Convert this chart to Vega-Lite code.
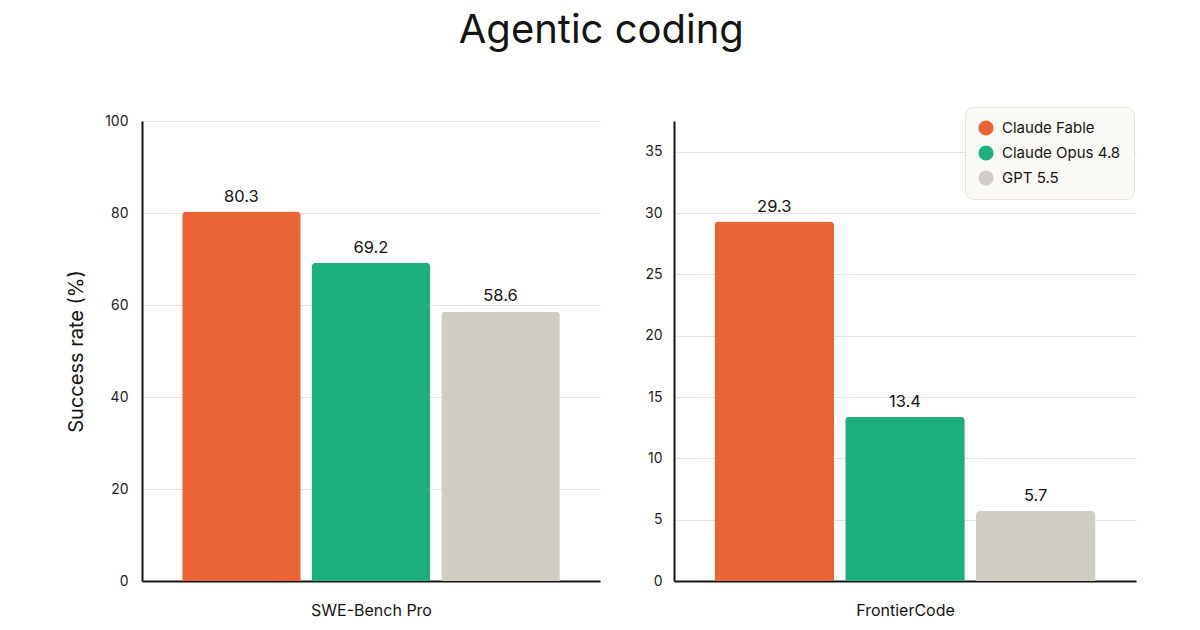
{
  "$schema": "https://vega.github.io/schema/vega-lite/v6.json",
  "background": "white",
  "padding": {"left": 66, "top": 10, "right": 54, "bottom": 3},
  "title": {"text": "Agentic coding", "fontSize": 40, "font": "Inter", "fontWeight": 400, "color": "#141413", "anchor": "middle", "offset": 56},
  "config": {
    "font": "Inter",
    "view": {"stroke": null},
    "axis": {"labelFont": "Inter", "titleFont": "Inter", "labelColor": "#222", "titleColor": "#141413"},
    "concat": {"spacing": 44}
  },
  "data": {"values": [
    {"benchmark": "SWE-Bench Pro", "model": "Claude Fable", "value": 80.3},
    {"benchmark": "SWE-Bench Pro", "model": "Claude Opus 4.8", "value": 69.2},
    {"benchmark": "SWE-Bench Pro", "model": "GPT 5.5", "value": 58.6},
    {"benchmark": "FrontierCode", "model": "Claude Fable", "value": 29.3},
    {"benchmark": "FrontierCode", "model": "Claude Opus 4.8", "value": 13.4},
    {"benchmark": "FrontierCode", "model": "GPT 5.5", "value": 5.7}
  ]},
  "resolve": {"scale": {"y": "independent"}, "legend": {"color": "independent"}},
  "hconcat": [
    {
      "width": 458, "height": 460,
      "transform": [{"filter": "datum.benchmark === 'SWE-Bench Pro'"}],
      "encoding": {
        "x": {"field": "model", "type": "nominal", "sort": ["Claude Fable", "Claude Opus 4.8", "GPT 5.5"],
              "scale": {"paddingInner": 0.085, "paddingOuter": 0.31},
              "axis": {"title": "SWE-Bench Pro", "labels": false, "ticks": false, "domainColor": "#141413", "domainWidth": 2, "titleFontSize": 16, "titleFontWeight": "normal", "titlePadding": 21}},
        "y": {"field": "value", "type": "quantitative", "scale": {"domain": [0, 100]},
              "axis": {"title": "Success rate (%)", "values": [0, 20, 40, 60, 80, 100], "ticks": false, "domainColor": "#141413", "domainWidth": 2, "gridColor": "#e3e3e3", "labelFontSize": 14, "labelPadding": 14, "titleFontSize": 20, "titleFontWeight": "normal", "titlePadding": 18}}
      },
      "layer": [
        {"mark": {"type": "bar", "cornerRadiusTopLeft": 4, "cornerRadiusTopRight": 4},
         "encoding": {"color": {"field": "model", "type": "nominal", "scale": {"domain": ["Claude Fable", "Claude Opus 4.8", "GPT 5.5"], "range": ["#EA6535", "#1DB07E", "#D0CEC4"]}, "legend": null}}},
        {"mark": {"type": "text", "dy": -15, "fontSize": 16.5, "color": "#141413"},
         "encoding": {"text": {"field": "value", "type": "quantitative", "format": ".1f"}}}
      ]
    },
    {
      "width": 462, "height": 460,
      "transform": [{"filter": "datum.benchmark === 'FrontierCode'"}],
      "encoding": {
        "x": {"field": "model", "type": "nominal", "sort": ["Claude Fable", "Claude Opus 4.8", "GPT 5.5"],
              "scale": {"paddingInner": 0.085, "paddingOuter": 0.31},
              "axis": {"title": "FrontierCode", "labels": false, "ticks": false, "domainColor": "#141413", "domainWidth": 2, "titleFontSize": 16, "titleFontWeight": "normal", "titlePadding": 21}},
        "y": {"field": "value", "type": "quantitative", "scale": {"domain": [0, 37.5], "nice": false},
              "axis": {"title": null, "values": [0, 5, 10, 15, 20, 25, 30, 35], "ticks": false, "domainColor": "#141413", "domainWidth": 2, "gridColor": "#e3e3e3", "labelFontSize": 14, "labelPadding": 12}}
      },
      "layer": [
        {"mark": {"type": "bar", "cornerRadiusTopLeft": 4, "cornerRadiusTopRight": 4},
         "encoding": {"color": {"field": "model", "type": "nominal", "scale": {"domain": ["Claude Fable", "Claude Opus 4.8", "GPT 5.5"], "range": ["#EA6535", "#1DB07E", "#D0CEC4"]},
           "legend": {"title": null, "orient": "none", "legendX": 291, "legendY": -14, "symbolType": "circle", "symbolSize": 230, "symbolStrokeWidth": 0, "labelFontSize": 15, "labelColor": "#141413", "rowPadding": 9, "padding": 13, "fillColor": "#FAF9F5", "strokeColor": "#E8E6DC", "cornerRadius": 8, "labelLimit": 200, "labelOffset": 8}}}},
        {"mark": {"type": "text", "dy": -15, "fontSize": 16.5, "color": "#141413"},
         "encoding": {"text": {"field": "value", "type": "quantitative", "format": ".1f"}}}
      ]
    }
  ]
}
